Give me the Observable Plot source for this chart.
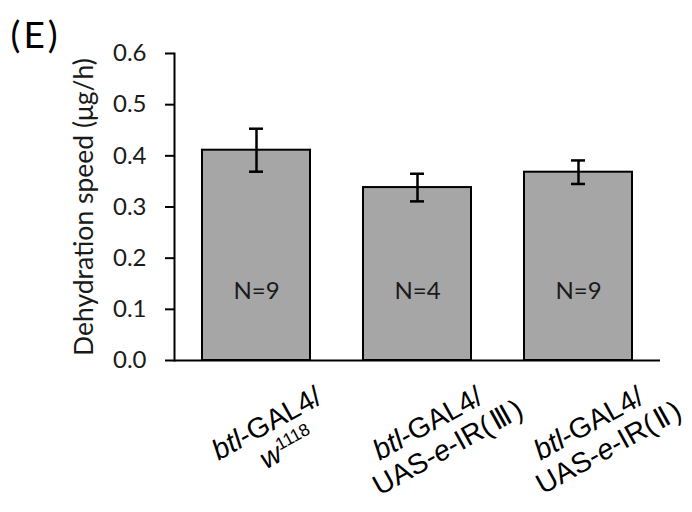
<!DOCTYPE html>
<html>
<head>
<meta charset="utf-8">
<script src="https://cdn.jsdelivr.net/npm/d3@7"></script>
<script src="https://cdn.jsdelivr.net/npm/@observablehq/plot@0.6"></script>
<style>
  html, body { margin: 0; padding: 0; background: #fff; }
</style>
</head>
<body>
<div id="chart"></div>
<script>
const categories = ["btl-GAL4/\nw1118", "btl-GAL4/\nUAS-e-IR(Ⅲ)", "btl-GAL4/\nUAS-e-IR(Ⅱ)"];
const means = [0.411, 0.338, 0.368];
const errors = [0.042, 0.027, 0.023];
const nLabels = ["N=9", "N=4", "N=9"];
const yTicks = [0, 0.1, 0.2, 0.3, 0.4, 0.5, 0.6];
const yLabel = "Dehydration speed (μg/h)";
const panelLabel = "(E)";

const data = categories.map((c, i) => ({cat: c, mean: means[i], err: errors[i], n: nLabels[i]}));

const labelFont = "'Liberation Sans', Arial, sans-serif";

const chart = Plot.plot({
  width: 692,
  height: 512,
  marginLeft: 174,
  marginRight: 32,
  marginTop: 53,
  marginBottom: 152,
  style: {fontFamily: "Lato, sans-serif", fontSize: "24px", color: "#000", background: "#fff"},
  x: {domain: categories, paddingInner: 0.33, paddingOuter: 0.174, axis: null},
  y: {domain: [0, 0.6]},
  marks: [
    Plot.barY(data, {x: "cat", y: "mean", fill: "#a6a6a6", stroke: "#000", strokeWidth: 2}),
    Plot.ruleX(data, {x: "cat", y1: d => d.mean - d.err, y2: d => d.mean + d.err, stroke: "#000", strokeWidth: 2.5}),
    Plot.tickY(data, {x: "cat", y: d => d.mean - d.err, insetLeft: 47, insetRight: 47, stroke: "#000", strokeWidth: 2.5}),
    Plot.tickY(data, {x: "cat", y: d => d.mean + d.err, insetLeft: 47, insetRight: 47, stroke: "#000", strokeWidth: 2.5}),
    Plot.text(data, {x: "cat", y: 0.135, text: "n", fontSize: 24, fill: "#1a1a1a"}),
    Plot.ruleY([0], {stroke: "#000", strokeWidth: 2}),
    Plot.frame({anchor: "left", stroke: "#000", strokeWidth: 2}),
    Plot.axisY({ticks: yTicks, tickSize: 9, tickPadding: 19, tickFormat: d => d.toFixed(1), fontSize: 24, strokeWidth: 2, stroke: "#000", fill: "#1a1a1a", label: null}),
    Plot.text([yLabel], {frameAnchor: "left", dx: -90, rotate: -90, textAnchor: "middle", fontSize: 26.5, fill: "#1a1a1a"}),
    Plot.text([panelLabel], {frameAnchor: "top-left", dx: -164, dy: -32, textAnchor: "start", lineAnchor: "top", fontSize: 37, fill: "#000"}),
    Plot.text(data, {x: "cat", text: "cat", frameAnchor: "bottom", dx: 4, dy: 52, rotate: -29, lineAnchor: "top", textAnchor: "middle", fontSize: 28.5, lineHeight: 1.08, fontFamily: labelFont, fill: "#000"})
  ]
});

// Mixed styling for genotype labels (italic gene names, superscript allele, roman numerals)
chart.querySelectorAll("text").forEach(t => {
  if (t.textContent === panelLabel) t.setAttribute("letter-spacing", "3");
  if (!t.textContent.includes("GAL4")) return;
  t.querySelectorAll("tspan").forEach(s => {
    const txt = s.textContent;
    if (txt.startsWith("btl")) {
      s.innerHTML = '<tspan font-style="italic">btl</tspan>' + txt.slice(3);
    } else if (txt.startsWith("w")) {
      s.setAttribute("x", "6");
      s.innerHTML = '<tspan font-style="italic">w</tspan><tspan baseline-shift="super" font-size="17.5">' + txt.slice(1) + '</tspan>';
    } else if (txt.startsWith("UAS-e-")) {
      s.setAttribute("x", "6");
      const m = txt.match(/\((.*)\)/);
      s.innerHTML = 'UAS-<tspan font-style="italic">e</tspan>-IR(<tspan font-family="DejaVu Sans" dx="3">' + m[1] + '</tspan><tspan dx="3">)</tspan>';
    }
  });
});

document.getElementById("chart").appendChild(chart);
</script>
</body>
</html>
